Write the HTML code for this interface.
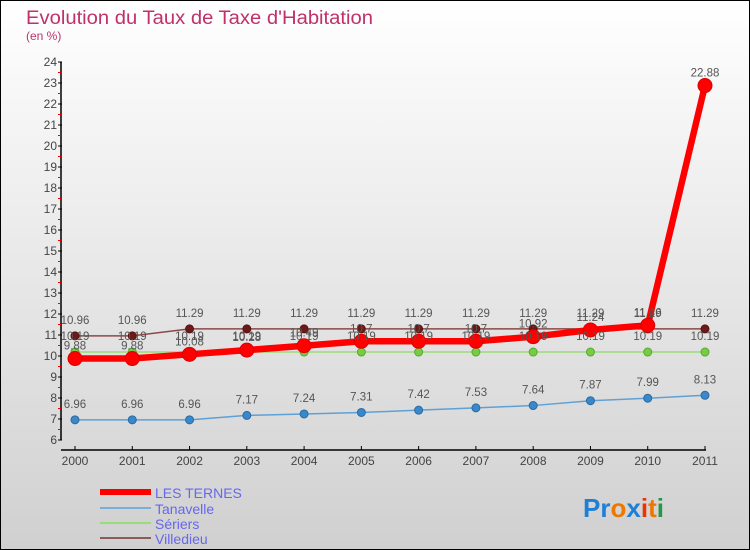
<!DOCTYPE html>
<html><head><meta charset="utf-8"><style>
body{margin:0;width:750px;height:550px;overflow:hidden}
svg{display:block;font-family:"Liberation Sans",sans-serif}
</style></head><body>
<svg id="chart" width="750" height="550">
<defs><linearGradient id="bg" x1="0" y1="0" x2="0" y2="1"><stop offset="0" stop-color="#ffffff"/><stop offset="1" stop-color="#d0d0d0"/></linearGradient></defs>
<rect x="0.5" y="0.5" width="749" height="549" fill="url(#bg)" stroke="#000"/>
<text x="26" y="24" font-size="19" fill="#c0306a" textLength="347" lengthAdjust="spacingAndGlyphs">Evolution du Taux de Taxe d'Habitation</text>
<text x="26" y="40" font-size="12" fill="#c0306a">(en %)</text>
<g id="axes"></g><g id="series"></g><g id="labels"></g>
<g>
<rect x="100" y="489" width="51" height="6" fill="#f00"/>
<text x="155" y="498" font-size="14" fill="#6666ee">LES TERNES</text>
<rect x="100" y="507" width="51" height="2" fill="#7aaed6"/>
<text x="155" y="514" font-size="14" fill="#6666ee">Tanavelle</text>
<rect x="100" y="522" width="51" height="2" fill="#99dd77"/>
<text x="155" y="529" font-size="14" fill="#6666ee">Sériers</text>
<rect x="100" y="537" width="51" height="2" fill="#8b5a5a"/>
<text x="155" y="544" font-size="14" fill="#6666ee">Villedieu</text>
</g>
<g font-size="26" font-weight="bold">
<text x="583" y="517"><tspan fill="#1e7fd6">Pr</tspan><tspan fill="#ee7700">o</tspan><tspan fill="#1e7fd6">x</tspan><tspan fill="#ee3300">i</tspan><tspan fill="#ee7700">t</tspan><tspan fill="#229944">i</tspan></text>
</g>
</svg>
<script>
const years=[2000,2001,2002,2003,2004,2005,2006,2007,2008,2009,2010,2011];
const yTicks=[6,7,8,9,10,11,12,13,14,15,16,17,18,19,20,21,22,23,24];
const lesTernes=[9.88,9.88,10.08,10.28,10.49,10.7,10.7,10.7,10.92,11.24,11.46,22.88];
const tanavelle=[6.96,6.96,6.96,7.17,7.24,7.31,7.42,7.53,7.64,7.87,7.99,8.13];
const seriers=[10.19,10.19,10.19,10.19,10.19,10.19,10.19,10.19,10.19,10.19,10.19,10.19];
const villedieu=[10.96,10.96,11.29,11.29,11.29,11.29,11.29,11.29,11.29,11.29,11.29,11.29];
const NS='http://www.w3.org/2000/svg';
const xs=i=>75+i*(630/11);
const ys=v=>440-(v-6)*21;
function mk(tag,attrs,parent,txt){const e=document.createElementNS(NS,tag);for(const k in attrs)e.setAttribute(k,attrs[k]);if(txt!==undefined)e.textContent=txt;parent.appendChild(e);return e;}
const ax=document.getElementById('axes');
let yl=mk('line',{x1:61,y1:ys(24),x2:61,y2:ys(6),stroke:'#000','stroke-width':1.5},ax);


yTicks.forEach(t=>{
  mk('line',{x1:58,y1:ys(t),x2:62,y2:ys(t),stroke:'#000'},ax);
  if(t<24) mk('line',{x1:58,y1:ys(t+0.5),x2:61,y2:ys(t+0.5),stroke:'#e00'},ax);
  const tl=mk('text',{x:57,y:ys(t)+4,'font-size':12,fill:'#444','text-anchor':'end'},ax,t);
  
  
});
let xl=mk('line',{x1:61,y1:450,x2:706,y2:450,stroke:'#000','stroke-width':1.5},ax);


years.forEach((y,i)=>{
  mk('line',{x1:xs(i),y1:446,x2:xs(i),y2:450,stroke:'#000'},ax);
  const tl=mk('text',{x:xs(i),y:465,'font-size':12,fill:'#444','text-anchor':'middle'},ax,y);
  
  
});
const sg=document.getElementById('series'),lg=document.getElementById('labels');
function draw(data,name,color,w,r,dot,dotStroke,labelOff){
  const g=mk('g',{},sg);
  
  
  mk('polyline',{points:data.map((v,i)=>xs(i)+','+ys(v)).join(' '),fill:'none',stroke:color,'stroke-width':w,'stroke-linejoin':'round'},g);
  data.forEach((v,i)=>{
    const c=mk('circle',{cx:xs(i),cy:ys(v),r:r,fill:dot,stroke:dotStroke,'stroke-width':1},g);
    
    
    const t=mk('text',{x:xs(i),y:ys(v)+labelOff,'font-size':11.5,fill:'#555','text-anchor':'middle'},lg,String(v));
    
    
  });
}
draw(villedieu,'villedieu','#8b4a4a',1.5,4,'#6b1a1a','#5a1010',-12);
draw(seriers,'seriers','#99dd77',1.5,4,'#77cc44','#55aa33',-12);
draw(tanavelle,'tanavelle','#5fa0d6',1.5,4,'#3a88cc','#2a6aa0',-12);
draw(lesTernes,'les-ternes','#f00',6.5,7,'#f00','#d00',-9);
</script>
</body></html>
